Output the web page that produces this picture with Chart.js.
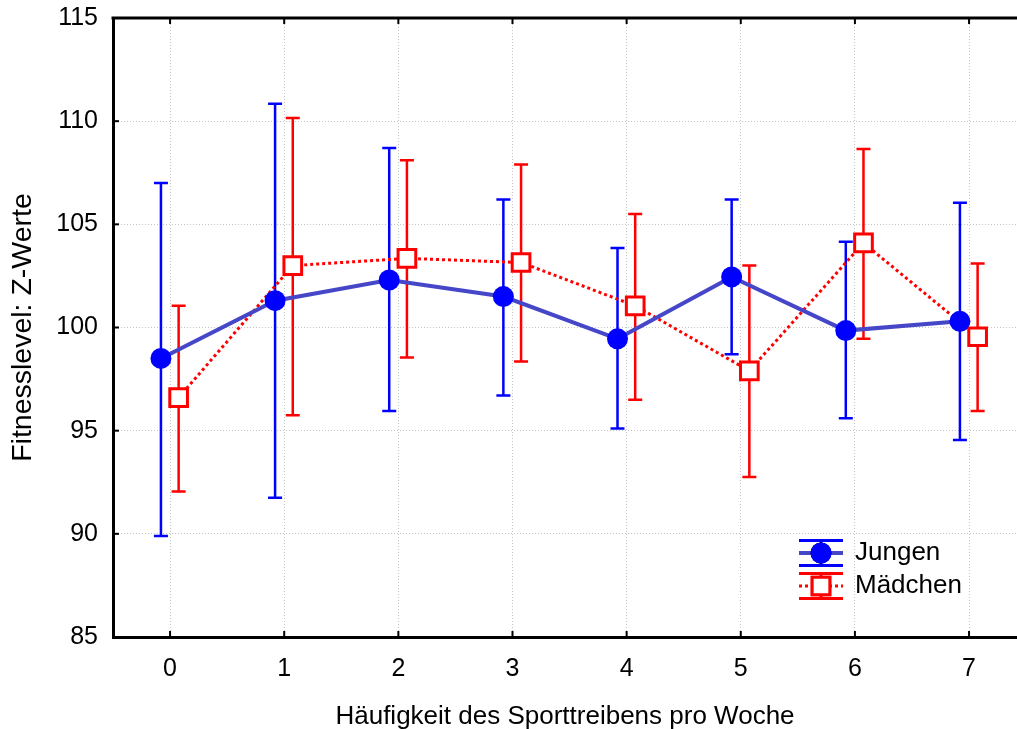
<!DOCTYPE html>
<html>
<head>
<meta charset="utf-8">
<script src="https://cdn.jsdelivr.net/npm/chart.js@4.4.0/dist/chart.umd.min.js"></script>
<style>
  html, body { margin: 0; padding: 0; background: #fff; }
  canvas { display: block; }
</style>
</head>
<body>
<canvas id="chart" width="1017" height="729"></canvas>
<script>
// Häufigkeit (Kategorien) und Achsen-Ticks
const categories = [0, 1, 2, 3, 4, 5, 6, 7];
const yTicks = [85, 90, 95, 100, 105, 110, 115];

// Jungen: Mittelwert + Fehlerbalken (oben/unten)
const jungenMean  = [98.5, 101.3, 102.3, 101.5, 99.45, 102.45, 99.85, 100.3];
const jungenUpper = [107.0, 110.85, 108.7, 106.2, 103.85, 106.2, 104.15, 106.05];
const jungenLower = [89.9, 91.75, 95.95, 96.7, 95.1, 98.7, 95.6, 94.55];

// Mädchen
const maedchenMean  = [96.6, 103.0, 103.35, 103.15, 101.05, 97.9, 104.1, 99.55];
const maedchenUpper = [101.05, 110.15, 108.1, 107.9, 105.5, 103.0, 108.65, 103.1];
const maedchenLower = [92.05, 95.75, 98.55, 98.35, 96.5, 92.75, 99.45, 95.95];

const FONT = "'Liberation Sans', Arial, sans-serif";
const shiftJ = -0.08, shiftM = 0.075;

const toPoints = (vals, shift) => vals.map((v, i) => ({ x: categories[i] + shift, y: v }));

// Fehlerbalken + Rahmen + Legende
const errorBars = {
  id: 'errorBars',
  beforeDatasetsDraw(chart) {
    const { ctx, scales: { x, y } } = chart;
    const draw = (lo, hi, shift, color) => {
      ctx.save();
      ctx.strokeStyle = color;
      ctx.lineWidth = 2.5;
      categories.forEach((c, i) => {
        const px = x.getPixelForValue(c + shift);
        const y1 = y.getPixelForValue(hi[i]);
        const y2 = y.getPixelForValue(lo[i]);
        ctx.beginPath();
        ctx.moveTo(px, y1); ctx.lineTo(px, y2);
        ctx.moveTo(px - 7, y1); ctx.lineTo(px + 7, y1);
        ctx.moveTo(px - 7, y2); ctx.lineTo(px + 7, y2);
        ctx.stroke();
      });
      ctx.restore();
    };
    draw(jungenLower, jungenUpper, shiftJ, '#0000ff');
    draw(maedchenLower, maedchenUpper, shiftM, '#ff0000');
  },
  afterDraw(chart) {
    const { ctx, chartArea: a, scales: { x, y } } = chart;
    ctx.save();
    // obere Rahmenlinie
    ctx.strokeStyle = '#000';
    ctx.lineWidth = 3;
    ctx.beginPath();
    ctx.moveTo(a.left - 1.5, a.top); ctx.lineTo(a.right, a.top);
    ctx.stroke();
    // Tickmarken nach innen
    ctx.lineWidth = 2;
    x.ticks.forEach(t => {
      const px = x.getPixelForValue(t.value);
      ctx.beginPath();
      ctx.moveTo(px, a.bottom); ctx.lineTo(px, a.bottom - 6);
      ctx.moveTo(px, a.top); ctx.lineTo(px, a.top + 6);
      ctx.stroke();
    });
    y.ticks.forEach(t => {
      const py = y.getPixelForValue(t.value);
      ctx.beginPath();
      ctx.moveTo(a.left, py); ctx.lineTo(a.left + 6, py);
      ctx.stroke();
    });

    // Legende
    const lx = 799, lw = 44, cx = lx + lw / 2;
    const items = [
      { y: 553, ds: chart.data.datasets[0], bar: '#0000ff' },
      { y: 586, ds: chart.data.datasets[1], bar: '#ff0000' }
    ];
    items.forEach(it => {
      ctx.strokeStyle = it.bar;
      ctx.lineWidth = 3;
      ctx.setLineDash([]);
      ctx.beginPath();
      ctx.moveTo(lx, it.y - 12.5); ctx.lineTo(lx + lw, it.y - 12.5);
      ctx.moveTo(lx, it.y + 12.5); ctx.lineTo(lx + lw, it.y + 12.5);
      ctx.moveTo(cx, it.y - 12.5); ctx.lineTo(cx, it.y + 12.5);
      ctx.stroke();
      ctx.strokeStyle = it.ds.borderColor;
      ctx.lineWidth = it.ds.borderWidth;
      ctx.setLineDash(it.ds.borderDash || []);
      ctx.beginPath();
      ctx.moveTo(lx, it.y); ctx.lineTo(lx + lw, it.y);
      ctx.stroke();
      ctx.setLineDash([]);
      Chart.helpers.drawPoint(ctx, {
        pointStyle: it.ds.pointStyle,
        radius: it.ds.pointRadius,
        borderWidth: it.ds.pointBorderWidth
      }, cx, it.y);
      ctx.fillStyle = it.ds.pointBackgroundColor;
      ctx.strokeStyle = it.ds.pointBorderColor;
      ctx.lineWidth = it.ds.pointBorderWidth;
      ctx.fill();
      if (it.ds.pointBorderWidth) ctx.stroke();
      ctx.fillStyle = '#000';
      ctx.font = '26px ' + FONT;
      ctx.textBaseline = 'middle';
      ctx.textAlign = 'left';
      ctx.fillText(it.ds.label, 855, it.y);
    });
    ctx.restore();
  }
};

new Chart(document.getElementById('chart'), {
  type: 'line',
  data: {
    datasets: [
      {
        label: 'Jungen',
        data: toPoints(jungenMean, shiftJ),
        borderColor: '#4646c8',
        borderWidth: 4,
        pointStyle: 'circle',
        pointRadius: 10.5,
        pointBackgroundColor: '#0000ff',
        pointBorderColor: '#0000ff',
        pointBorderWidth: 0,
        tension: 0
      },
      {
        label: 'Mädchen',
        data: toPoints(maedchenMean, shiftM),
        borderColor: '#ff0000',
        borderWidth: 3,
        borderDash: [3, 3],
        pointStyle: 'rect',
        pointRadius: 12.5,
        pointBackgroundColor: '#ffffff',
        pointBorderColor: '#ff0000',
        pointBorderWidth: 3,
        tension: 0
      }
    ]
  },
  options: {
    responsive: false,
    animation: false,
    layout: { autoPadding: false, padding: { left: 0, right: 0, top: 18, bottom: 0 } },
    plugins: { legend: { display: false }, tooltip: { enabled: false } },
    scales: {
      x: {
        type: 'linear',
        min: -0.5,
        max: 7.42,
        afterBuildTicks: s => { s.ticks = categories.map(v => ({ value: v })); },
        afterFit: s => { s.height = 92; s.paddingLeft = 0; s.paddingRight = 0; },
        grid: { color: '#c4c4c4', lineWidth: 1, drawTicks: false },
        border: { display: true, color: '#000', width: 3, dash: [1, 2] },
        ticks: { color: '#000', font: { family: FONT, size: 25 }, padding: 17 },
        title: {
          display: true,
          text: 'Häufigkeit des Sporttreibens pro Woche',
          color: '#000',
          font: { family: FONT, size: 26 },
          padding: { top: 0, bottom: -3 }
        }
      },
      y: {
        min: 85,
        max: 115,
        afterBuildTicks: s => { s.ticks = yTicks.map(v => ({ value: v })); },
        afterFit: s => { s.width = 113; s.paddingTop = 0; s.paddingBottom = 0; },
        grid: { color: '#c4c4c4', lineWidth: 1, drawTicks: false },
        border: { display: true, color: '#000', width: 3, dash: [1, 2] },
        ticks: { color: '#000', font: { family: FONT, size: 25 }, padding: 15 },
        title: {
          display: true,
          text: 'Fitnesslevel: Z-Werte',
          color: '#000',
          font: { family: FONT, size: 28.5 },
          padding: { top: 6, bottom: 0 }
        }
      }
    }
  },
  plugins: [errorBars]
});
</script>
</body>
</html>
